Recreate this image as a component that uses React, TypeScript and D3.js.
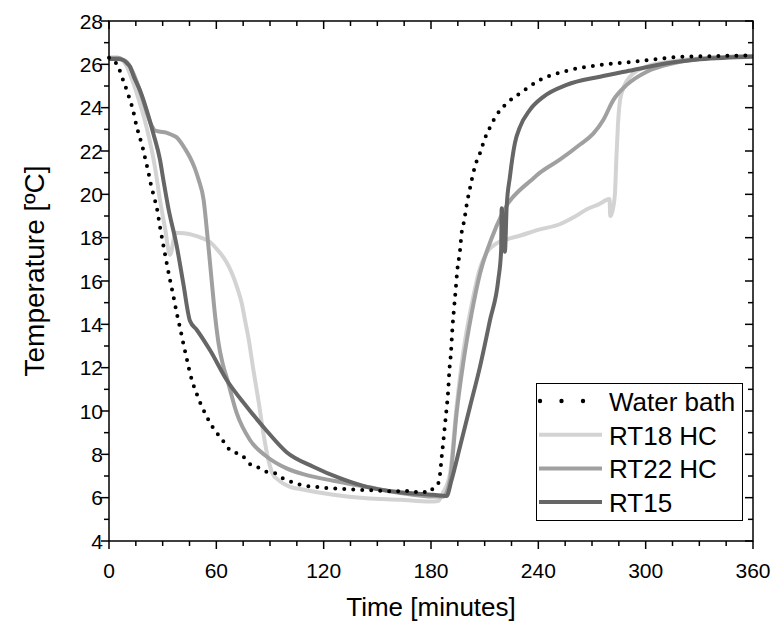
import React from 'react';
import * as d3 from 'd3';

type Pt = [number, number];

// time [min], temperature [°C]
const waterBath: Pt[] = [
  [0, 26.3], [2, 26.25], [4, 26.05], [5.6, 25.8], [7.1, 25.45], [8.6, 25.1], [10.4, 24.7], [11.7, 24.35],
  [13.4, 23.9], [14.7, 23.4], [16.9, 22.7], [18.4, 22.3], [20.1, 21.7], [21.8, 21.1], [23.3, 20.5], [24.8, 20.0],
  [26.9, 19.3], [28.5, 18.5], [30.5, 17.6], [32.3, 16.8], [34.1, 16.05], [36, 15.3], [37.9, 14.5], [39.8, 13.8],
  [41.6, 13.1], [43.5, 12.4], [45.3, 11.74], [47, 11.25], [49, 10.8], [50.9, 10.4], [53.7, 9.9], [56.5, 9.45],
  [60.2, 9.0], [63.9, 8.6], [67.6, 8.2], [70, 8.1], [75, 7.9], [78, 7.6], [82.5, 7.43], [88, 7.2], [93.7, 7.1],
  [96, 6.95], [100, 6.8], [106.8, 6.6], [115, 6.5], [125, 6.43], [135, 6.38], [144, 6.35], [150, 6.33],
  [155, 6.3], [160, 6.28], [165, 6.33], [170, 6.25], [175, 6.3], [178, 6.22], [181.3, 6.44], [184.1, 6.67],
  [185, 7.05], [186, 7.9], [186.9, 8.6], [187.8, 9.35], [188.7, 10.1], [189.7, 11.05], [190.2, 11.8],
  [191.2, 12.74], [191.9, 13.74], [192.8, 14.66], [193.8, 15.6], [194.7, 16.5], [196.2, 17.4], [197.1, 18.2],
  [198.6, 18.8], [199.9, 19.5], [201.8, 20.28], [204.6, 21.3], [207.4, 21.9], [210.2, 22.6], [213, 23.1],
  [216.7, 23.66], [222.3, 24.2], [229.7, 24.66], [240.9, 25.28], [255.8, 25.7], [274.5, 25.97], [293, 26.12],
  [321, 26.35], [340, 26.38], [360, 26.42],
];

const rt18: Pt[] = [
  [0, 26.3], [5, 26.3], [8, 26.15], [10, 25.9], [12, 25.5], [15, 24.8], [18, 24.0], [21, 23.1], [24, 22.0],
  [26, 21.1], [28.5, 19.74], [31.3, 18.45], [34.1, 17.2], [37.3, 18.23], [42, 18.2],
  [47.1, 18.12], [52, 17.98], [56.5, 17.8], [60, 17.5], [63.9, 17.1], [66.8, 16.7], [69.5, 16.2], [72, 15.6],
  [74.2, 14.97], [76, 14.2], [77.9, 13.4], [80.7, 11.9], [83.5, 10.5], [86.3, 8.97], [89.1, 7.74], [91.5, 7.1],
  [94.6, 6.82], [101.2, 6.5], [106.8, 6.4], [125.4, 6.13], [144, 5.97], [162.7, 5.9], [179.4, 5.82],
  [184, 5.85], [186.5, 6.2], [190.6, 7.1], [194.3, 10.2], [198, 12.7], [202.7, 14.9], [207.4, 16.6],
  [211.5, 17.35], [216, 17.7], [221.6, 17.9], [230, 18.1], [240.9, 18.38], [252, 18.62], [260, 18.95],
  [266.9, 19.3], [274, 19.55], [279.8, 19.78], [280.2, 19.0], [281, 19.1], [282.8, 20.0], [283.6, 21.6],
  [284.5, 23.2], [285.7, 24.35], [288, 25.0], [291.2, 25.43], [300.6, 25.9], [321, 26.2], [340, 26.32],
  [360, 26.38],
];

const rt22: Pt[] = [
  [0, 26.3], [5, 26.3], [8, 26.2], [10, 26.1], [12, 25.85], [15, 25.3], [18, 24.6], [21, 23.8], [24, 23.15],
  [25.7, 22.95], [28, 22.9], [32, 22.85], [35, 22.75], [37.5, 22.65], [39.7, 22.45], [42.5, 22.1],
  [45.3, 21.7], [48, 21.2], [50, 20.7], [52.9, 19.74], [55, 18.1], [57.3, 16.1], [59.3, 14.4], [61.3, 13.1],
  [63.5, 12.2], [66.3, 11.4], [71.4, 9.9], [78.8, 8.66], [88.1, 7.9], [99.3, 7.35], [110, 7.05],
  [125.4, 6.78], [144, 6.5], [162.7, 6.22], [181.3, 6.05], [186.9, 6.05], [190.6, 6.82], [194.3, 9.9],
  [198, 12.2], [202.7, 14.5], [207.4, 16.35], [213.9, 17.97], [219.5, 19.05], [223.2, 19.6], [229.7, 20.2],
  [235.3, 20.6], [240.9, 21.0], [252, 21.6], [263.3, 22.3], [270.7, 22.8], [276.3, 23.43], [281.9, 24.35],
  [289.4, 25.05], [300.6, 25.66], [315.4, 26.05], [334, 26.28], [360, 26.38],
];

const rt15: Pt[] = [
  [0, 26.25], [5, 26.25], [8, 26.2], [10, 26.05], [11.7, 25.9], [14, 25.4], [17.3, 24.8], [21, 23.9],
  [24.8, 22.8], [28.5, 21.6], [30.4, 20.66], [33.1, 19.4], [37.9, 17.6], [41.5, 15.9], [45.3, 14.15],
  [49, 13.75], [56.5, 12.8], [65.8, 11.43], [77, 10.2], [88, 9.1], [99.3, 8.1], [114.2, 7.43], [129.1, 6.9],
  [144, 6.5], [162.7, 6.25], [181.3, 6.13], [188.7, 6.08], [191.5, 6.82], [196.2, 8.35], [201.8, 10.2],
  [207.4, 12.05], [213, 14.2], [217.6, 16.05], [219.2, 17.4], [219.5, 19.36], [221.3, 17.35], [222.3, 19.43],
  [224.1, 20.8], [226.9, 22.36], [229.7, 23.1], [235.3, 23.9], [242.8, 24.5], [255.8, 25.05], [274.5, 25.43],
  [293, 25.74], [311.7, 26.05], [330.4, 26.23], [360, 26.35],
];

const xTicks = [0, 60, 120, 180, 240, 300, 360];
const yTicks = [4, 6, 8, 10, 12, 14, 16, 18, 20, 22, 24, 26, 28];
const seriesNames = ['Water bath', 'RT18 HC', 'RT22 HC', 'RT15'];
const seriesColors = ['#000000', '#d3d3d3', '#a0a0a0', '#666666'];

const W = 774;
const H = 624;
const FONT = "'Liberation Sans', Arial, sans-serif";

export default function App() {
  const x = d3.scaleLinear().domain([0, 360]).range([109, 753]);
  const y = d3.scaleLinear().domain([4, 28]).range([541, 21]);
  const [x0, x1] = x.range();
  const [y0, y1] = y.range();

  const line = d3.line<Pt>()
    .x(d => x(d[0]))
    .y(d => y(d[1]))
    .curve(d3.curveMonotoneX);

  const xMinor = d3.range(0, 361, 15).filter(v => v % 60 !== 0);
  const yMinor = d3.range(4, 29, 1).filter(v => v % 2 !== 0);

  const lines: { data: Pt[]; color: string }[] = [
    { data: rt18, color: seriesColors[1] },
    { data: rt22, color: seriesColors[2] },
    { data: rt15, color: seriesColors[3] },
  ];

  // legend
  const lg = { left: 536.5, top: 383.5, right: 742.5, bottom: 520.5, row0: 401, rowH: 33.7 };

  return (
    <div style={{ position: 'absolute', left: 0, top: 0 }}>
      <svg width={W} height={H} style={{ display: 'block', background: '#fff' }} fontFamily={FONT}>
        {lines.map((s, i) => (
          <path key={i} d={line(s.data) || ''} fill="none" stroke={s.color} strokeWidth={4}
            strokeLinejoin="round" />
        ))}
        <path d={line(waterBath) || ''} fill="none" stroke="#000" strokeWidth={4}
          strokeLinecap="round" strokeDasharray="0 9" />

        {/* frame */}
        <rect x={x0} y={y1} width={x1 - x0} height={y0 - y1} fill="none" stroke="#000" strokeWidth={1.5} />

        {/* bottom + top ticks */}
        {xTicks.map(v => (
          <g key={'xt' + v}>
            <line x1={x(v)} x2={x(v)} y1={y0} y2={y0 + 8} stroke="#000" strokeWidth={1.5} />
            <line x1={x(v)} x2={x(v)} y1={y1} y2={y1 + 8} stroke="#000" strokeWidth={1.5} />
            <text x={x(v)} y={y0 + 37} textAnchor="middle" fontSize={21}>{v}</text>
          </g>
        ))}
        {xMinor.map(v => (
          <g key={'xm' + v}>
            <line x1={x(v)} x2={x(v)} y1={y0} y2={y0 + 5} stroke="#000" strokeWidth={1.5} />
            <line x1={x(v)} x2={x(v)} y1={y1} y2={y1 + 5} stroke="#000" strokeWidth={1.5} />
          </g>
        ))}

        {/* left + right ticks */}
        {yTicks.map(v => (
          <g key={'yt' + v}>
            <line x1={x0 - 8} x2={x0} y1={y(v)} y2={y(v)} stroke="#000" strokeWidth={1.5} />
            <line x1={x1 - 8} x2={x1} y1={y(v)} y2={y(v)} stroke="#000" strokeWidth={1.5} />
            <text x={x0 - 6} y={y(v) + 7.5} textAnchor="end" fontSize={21}>{v}</text>
          </g>
        ))}
        {yMinor.map(v => (
          <g key={'ym' + v}>
            <line x1={x0 - 5} x2={x0} y1={y(v)} y2={y(v)} stroke="#000" strokeWidth={1.5} />
            <line x1={x1 - 5} x2={x1} y1={y(v)} y2={y(v)} stroke="#000" strokeWidth={1.5} />
          </g>
        ))}

        <text x={(x0 + x1) / 2} y={616} textAnchor="middle" fontSize={26}>Time [minutes]</text>
        <text transform={`translate(44,${(y0 + y1) / 2 - 10}) rotate(-90)`} textAnchor="middle" fontSize={28}>
          Temperature [ºC]
        </text>

        {/* legend */}
        <rect x={lg.left} y={lg.top} width={lg.right - lg.left} height={lg.bottom - lg.top}
          fill="#fff" stroke="#000" strokeWidth={1} />
        {seriesNames.map((name, i) => {
          const cy = lg.row0 + i * lg.rowH;
          return (
            <g key={name}>
              {i === 0
                ? [540, 561.5, 583].map(cx => <circle key={cx} cx={cx} cy={cy} r={2.2} fill="#000" />)
                : <line x1={539} x2={602} y1={cy} y2={cy} stroke={seriesColors[i]} strokeWidth={4} />}
              <text x={609} y={cy + 10} fontSize={26}>{name}</text>
            </g>
          );
        })}
      </svg>
    </div>
  );
}
